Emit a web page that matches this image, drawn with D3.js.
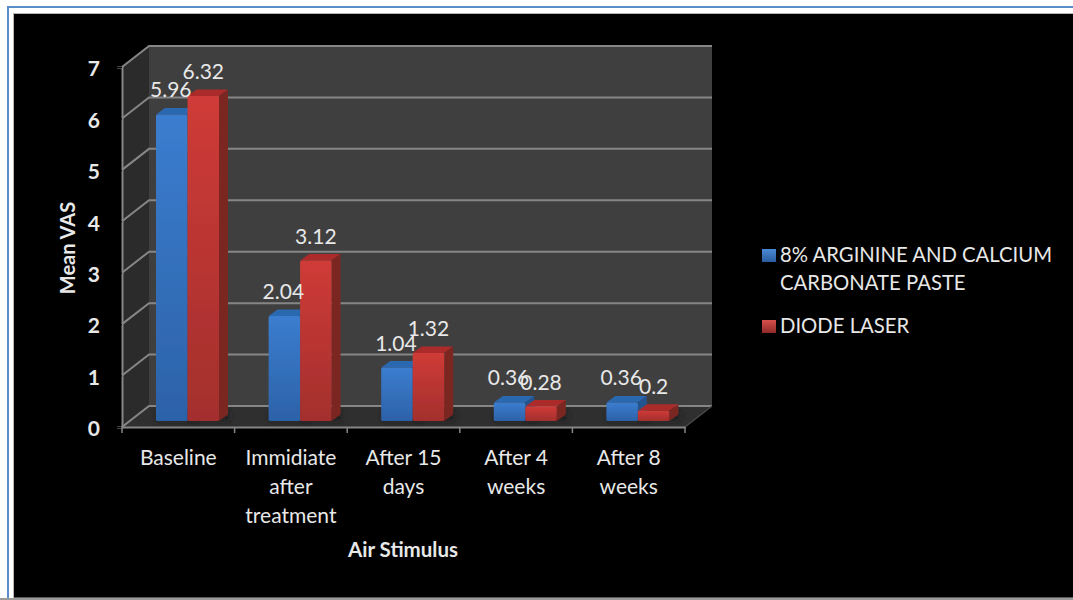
<!DOCTYPE html>
<html>
  <head>
    <meta charset="utf-8">
    <script src="https://d3js.org/d3.v7.min.js"></script>
    <style>
      html, body {
        margin: 0;
        padding: 0;
        overflow: hidden;
        background: #fff;
      }
      text {
        font-family: Lato, "Open Sans", sans-serif;
        fill: #e8e8e8;
      }
    </style>
  </head>
  <body>
    <div id="visualization"></div>
    <script>
      // Chart data
      const categories = ["Baseline", "Immidiate after treatment", "After 15 days", "After 4 weeks", "After 8 weeks"];
      const categoryLines = [["Baseline"], ["Immidiate", "after", "treatment"], ["After 15", "days"], ["After 4", "weeks"], ["After 8", "weeks"]];
      const seriesNames = ["8% ARGININE AND CALCIUM CARBONATE PASTE", "DIODE LASER"];
      const arginine = [5.96, 2.04, 1.04, 0.36, 0.36];
      const diode = [6.32, 3.12, 1.32, 0.28, 0.2];
      const yTicks = [0, 1, 2, 3, 4, 5, 6, 7];

      const width = 1073;
      const height = 600;

      // Front plane of the 3D box, and the offset to its back wall
      const plot = { left: 122, right: 685, top: 67, bottom: 427 };
      const wall = { dx: 27, dy: -21 };
      const barShift = { dx: 9, dy: -6 };   // bars stand a bit inside the floor
      const barDepth = { dx: 9, dy: -6.5 };

      const svg = d3.select("#visualization")
        .append("svg")
        .attr("width", width)
        .attr("height", height)
        .style("display", "block");

      const defs = svg.append("defs");

      function barGradient(id, top, bottom) {
        const g = defs.append("linearGradient")
          .attr("id", id)
          .attr("x1", 0).attr("y1", 0).attr("x2", 0).attr("y2", 1);
        g.append("stop").attr("offset", "0%").attr("stop-color", top);
        g.append("stop").attr("offset", "100%").attr("stop-color", bottom);
      }
      barGradient("blueFront", "#3b7dcf", "#2c62a8");
      barGradient("redFront", "#cf3b37", "#a32f2d");
      barGradient("blueSwatch", "#4a8ad6", "#2a5c9e");
      barGradient("redSwatch", "#d9504c", "#8f2a28");

      defs.append("filter").attr("id", "soft")
        .attr("x", "-30%").attr("y", "-100%").attr("width", "160%").attr("height", "300%")
        .append("feGaussianBlur").attr("stdDeviation", 3);

      defs.append("filter").attr("id", "tiny")
        .append("feGaussianBlur").attr("stdDeviation", 0.35);

      // Frame of the screenshot
      svg.append("rect").attr("x", 8).attr("y", 7).attr("width", 1080).attr("height", 610)
        .attr("fill", "#fff").attr("stroke", "#5b8dc8").attr("stroke-width", 2);
      svg.append("rect").attr("x", 13.5).attr("y", 13.5).attr("width", 1080).attr("height", 584.5)
        .attr("fill", "#000").attr("stroke", "#b5b5b5").attr("stroke-width", 1);
      svg.append("rect").attr("x", 0).attr("y", 598).attr("width", width).attr("height", 2).attr("fill", "#9a9a9a");

      const x = d3.scaleBand().domain(categories).range([plot.left, plot.right]);
      const y = d3.scaleLinear().domain([0, 7]).range([plot.bottom, plot.top]);
      const inner = d3.scaleBand().domain([0, 1]).range([0, 63]);

      const pts = a => a.map(p => p.join(",")).join(" ");

      // Walls and floor
      svg.append("polygon")
        .attr("points", pts([[plot.left, plot.top], [plot.left + wall.dx, plot.top + wall.dy], [plot.left + wall.dx, plot.bottom + wall.dy], [plot.left, plot.bottom]]))
        .attr("fill", "#2b2b2b");
      svg.append("rect")
        .attr("x", plot.left + wall.dx).attr("y", plot.top + wall.dy)
        .attr("width", plot.right - plot.left).attr("height", plot.bottom - plot.top)
        .attr("fill", "#3f3f3f");
      svg.append("polygon")
        .attr("points", pts([[plot.left, plot.bottom], [plot.left + wall.dx, plot.bottom + wall.dy], [plot.right + wall.dx, plot.bottom + wall.dy], [plot.right, plot.bottom]]))
        .attr("fill", "#2f2f2f");

      // Gridlines run along the side wall and then across the back wall
      svg.append("g").selectAll("polyline")
        .data(yTicks)
        .join("polyline")
        .attr("points", d => pts([[plot.left, y(d)], [plot.left + wall.dx, y(d) + wall.dy], [plot.right + wall.dx, y(d) + wall.dy]]))
        .attr("fill", "none")
        .attr("stroke", "#868686")
        .attr("stroke-width", 2);

      svg.append("line")
        .attr("x1", plot.right).attr("y1", plot.bottom)
        .attr("x2", plot.right + wall.dx).attr("y2", plot.bottom + wall.dy)
        .attr("stroke", "#4a4a4a").attr("stroke-width", 1.5);

      // Axes
      const yAxis = svg.append("g")
        .attr("transform", `translate(${plot.left},0)`)
        .call(d3.axisLeft(y).tickValues(yTicks).tickSize(5).tickPadding(17).tickFormat(d3.format("d")));
      yAxis.selectAll("text")
        .attr("dy", "0.42em")
        .style("font-size", "21px").style("font-weight", 700).style("fill", "#e8e8e8");

      const xAxis = svg.append("g")
        .attr("transform", `translate(0,${plot.bottom})`)
        .call(d3.axisBottom(x).tickSize(0).tickFormat(""));
      xAxis.selectAll(".tick").remove();
      svg.selectAll(".domain").attr("stroke", "#868686").attr("stroke-width", 2);

      // Tick marks on the category boundaries
      svg.append("g").selectAll("line")
        .data(categories.concat(["end"]))
        .join("line")
        .attr("x1", (d, i) => plot.left + i * x.step())
        .attr("x2", (d, i) => plot.left + i * x.step())
        .attr("y1", plot.bottom)
        .attr("y2", plot.bottom + 6)
        .attr("stroke", "#868686")
        .attr("stroke-width", 1.5);

      // Category labels
      svg.append("g").selectAll("text")
        .data(categories)
        .join("text")
        .attr("text-anchor", "middle")
        .style("font-size", "21px")
        .each(function(d, i) {
          d3.select(this).selectAll("tspan")
            .data(categoryLines[i])
            .join("tspan")
            .attr("x", x(d) + x.bandwidth() / 2)
            .attr("y", (l, j) => 465 + j * 29)
            .text(l => l);
        });

      // Axis titles
      svg.append("text")
        .attr("x", 403).attr("y", 557)
        .attr("text-anchor", "middle")
        .style("font-size", "20.5px").style("font-weight", 700)
        .text("Air Stimulus");
      svg.append("text")
        .attr("transform", "translate(75,248) rotate(-90)")
        .attr("text-anchor", "middle")
        .style("font-size", "20px").style("font-weight", 700)
        .text("Mean VAS");

      // Bars
      const series = [
        { values: arginine, front: "url(#blueFront)", top: "#2c67b0", side: "#24548f" },
        { values: diode, front: "url(#redFront)", top: "#ab2c29", side: "#7c2523" }
      ];

      const barBase = y(0) + barShift.dy;
      const barY = v => y(v) + barShift.dy;
      const barX = (i, s) => x(categories[i]) + barShift.dx + 25 + inner(s);
      const barW = inner.bandwidth();

      const bars = [];
      series.forEach((s, si) => s.values.forEach((v, i) => bars.push({ v, i, si, s })));

      // soft shadow on the floor behind each bar
      svg.append("g").selectAll("rect")
        .data(bars)
        .join("rect")
        .attr("x", d => barX(d.i, d.si) + 2)
        .attr("y", barBase - 9)
        .attr("width", barW + 8)
        .attr("height", 8)
        .attr("fill", "#1c1c1c")
        .attr("filter", "url(#soft)");

      const barG = svg.append("g").attr("filter", "url(#tiny)")
        .selectAll("g")
        .data(bars)
        .join("g");

      barG.append("polygon")
        .attr("points", d => {
          const l = barX(d.i, d.si), t = barY(d.v);
          return pts([[l, t], [l + barDepth.dx, t + barDepth.dy], [l + barW + barDepth.dx, t + barDepth.dy], [l + barW, t]]);
        })
        .attr("fill", d => d.s.top);
      barG.append("polygon")
        .attr("points", d => {
          const r = barX(d.i, d.si) + barW, t = barY(d.v);
          return pts([[r, t], [r + barDepth.dx, t + barDepth.dy], [r + barDepth.dx, barBase + barDepth.dy], [r, barBase]]);
        })
        .attr("fill", d => d.s.side);
      barG.append("rect")
        .attr("x", d => barX(d.i, d.si))
        .attr("y", d => barY(d.v))
        .attr("width", barW)
        .attr("height", d => barBase - barY(d.v))
        .attr("rx", 1.5)
        .attr("fill", d => d.s.front);

      // Data labels
      svg.append("g").selectAll("text")
        .data(bars)
        .join("text")
        .attr("x", d => barX(d.i, d.si) + barW / 2 - (d.si === 0 ? 1 : 0))
        .attr("y", d => barY(d.v) - 17)
        .attr("text-anchor", "middle")
        .style("font-size", "21px")
        .text(d => d.v);

      // Legend
      const legendLines = [["8% ARGININE AND CALCIUM", "CARBONATE PASTE"], ["DIODE LASER"]];
      const legendY = [262, 333];
      const swatches = ["url(#blueSwatch)", "url(#redSwatch)"];
      const legend = svg.append("g").selectAll("g")
        .data(seriesNames)
        .join("g");
      legend.append("rect")
        .attr("x", 762)
        .attr("y", (d, i) => legendY[i] - 13)
        .attr("width", 14).attr("height", 13)
        .attr("fill", (d, i) => swatches[i]);
      legend.append("text")
        .style("font-size", "20.3px")
        .each(function(d, i) {
          d3.select(this).selectAll("tspan")
            .data(legendLines[i])
            .join("tspan")
            .attr("x", 780)
            .attr("y", (l, j) => legendY[i] + j * 28)
            .text(l => l);
        });
    </script>
  </body>
</html>
